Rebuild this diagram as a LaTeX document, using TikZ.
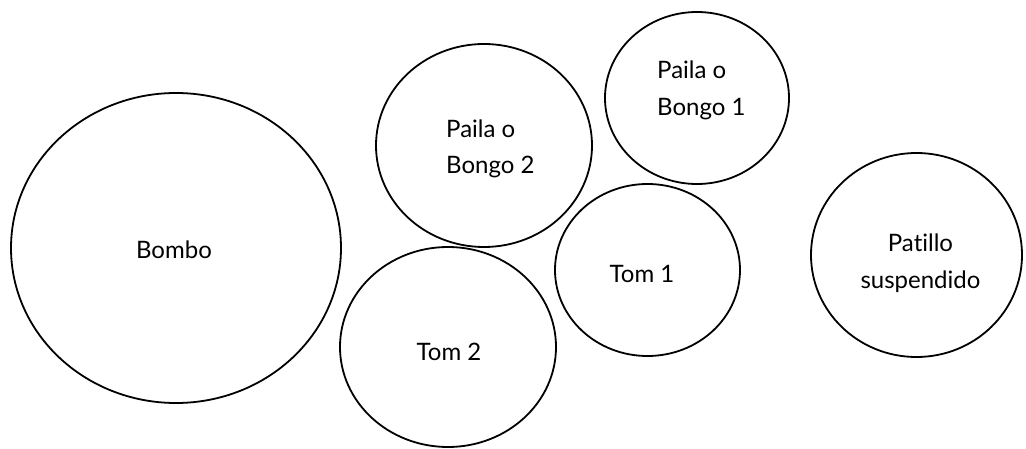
\documentclass[tikz,border=0pt]{standalone}
\usepackage{fontspec}
\setmainfont{Lato}[Ligatures=NoCommon]
\usetikzlibrary{shapes.geometric}
\tikzset{
  drum/.style={draw=black, line width=1.8pt, shape=ellipse, inner sep=0pt},
  drumlabel/.style={inner sep=0pt, font=\fontsize{24}{37}\selectfont},
}
\begin{document}
\begin{tikzpicture}[x=1pt,y=1pt]
\useasboundingbox (0,0) rectangle (1026,448);
% drum outlines
\node[drum, minimum width=330, minimum height=310] (bombo) at (176,200) {};
\node[drum, minimum width=216, minimum height=203] (bongo2) at (484,302.5) {};
\node[drum, minimum width=216, minimum height=200] (tom2) at (448,101) {};
\node[drum, minimum width=184, minimum height=172] (bongo1) at (697,350) {};
\node[drum, minimum width=185, minimum height=172] (tom1) at (647.5,178) {};
\node[drum, minimum width=211, minimum height=204] (patillo) at (916.5,193) {};
% drum names (base anchor sits on the last line)
\node[drumlabel, anchor=base] (bombo-t) at (174,190) {Bombo};
\node[drumlabel, anchor=base west, align=left] (bongo2-t) at (446,274) {Paila o\\Bongo 2};
\node[drumlabel, anchor=base] (tom2-t) at (449,88) {Tom 2};
\node[drumlabel, anchor=base west, align=left] (bongo1-t) at (657,332) {Paila o\\Bongo 1};
\node[drumlabel, anchor=base] (tom1-t) at (642,166) {Tom 1};
\node[drumlabel, anchor=base, align=center] (patillo-t) at (920.5,160) {Patillo\\suspendido};
\end{tikzpicture}
\end{document}
